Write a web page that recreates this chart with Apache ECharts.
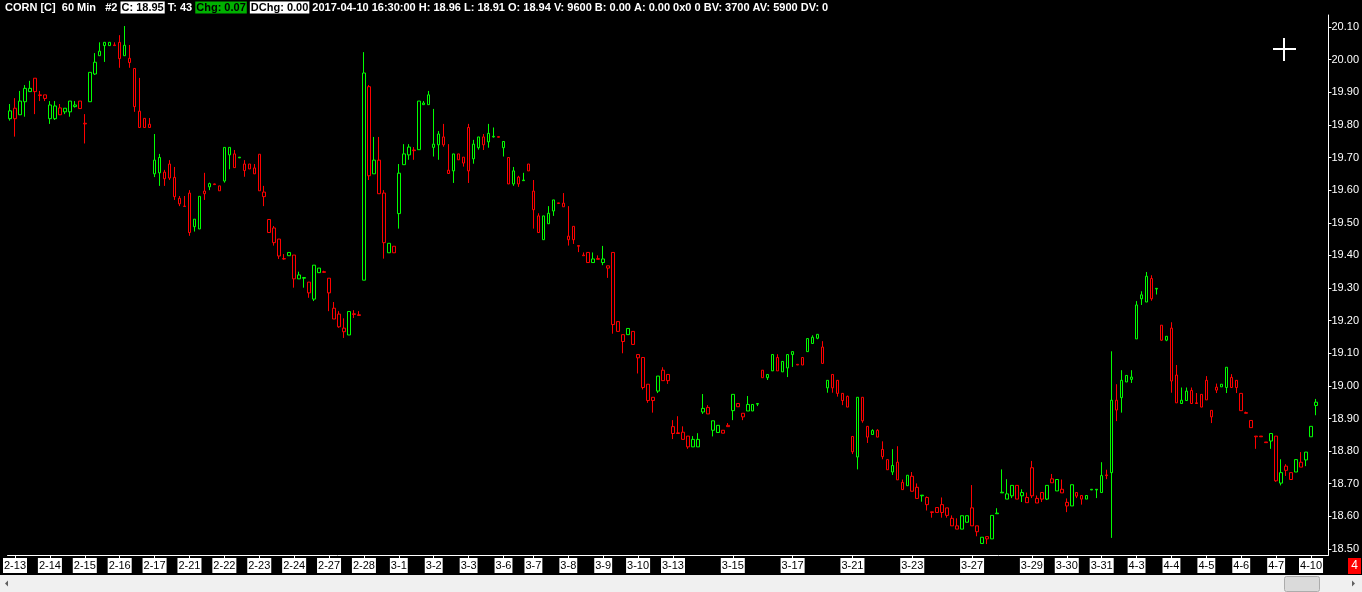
<!DOCTYPE html>
<html>
<head>
<meta charset="utf-8">
<script src="https://cdn.jsdelivr.net/npm/echarts@6/dist/echarts.min.js"></script>
<style>
html,body{margin:0;padding:0;background:#000;}
#chart{width:1362px;height:592px;}
</style>
</head>
<body>
<div id="chart"></div>
<script>
// ---- data (60-min bars, CORN) ----
const opens = [19.819,19.851,19.831,19.871,19.902,19.943,19.892,19.892,19.819,19.819,19.852,19.840,19.840,19.856,19.873,19.805,19.871,19.956,20.012,20.043,20.043,20.045,20.053,20.012,20.004,19.973,19.842,19.820,19.802,19.650,19.653,19.655,19.680,19.639,19.575,19.551,19.591,19.488,19.481,19.597,19.610,19.619,19.613,19.628,19.708,19.711,19.699,19.680,19.680,19.668,19.710,19.594,19.510,19.484,19.450,19.390,19.399,19.401,19.328,19.330,19.318,19.266,19.347,19.350,19.330,19.238,19.220,19.177,19.156,19.221,19.218,19.324,19.917,19.650,19.692,19.591,19.408,19.428,19.528,19.678,19.708,19.723,19.724,19.862,19.862,19.731,19.739,19.763,19.661,19.659,19.711,19.701,19.792,19.696,19.730,19.763,19.748,19.763,19.764,19.730,19.700,19.619,19.640,19.629,19.680,19.597,19.521,19.448,19.497,19.536,19.561,19.560,19.459,19.489,19.430,19.401,19.409,19.378,19.390,19.378,19.368,19.409,19.197,19.157,19.157,19.167,19.096,19.087,19.005,18.965,18.984,19.048,19.035,18.875,18.856,18.858,18.846,18.813,18.813,18.920,18.934,18.864,18.857,18.864,18.879,18.924,18.946,18.916,18.923,18.923,18.944,19.048,19.025,19.046,19.087,19.043,19.055,19.096,19.066,19.087,19.105,19.130,19.146,19.119,18.994,19.035,19.017,18.977,18.968,18.845,18.782,18.965,18.876,18.851,18.864,18.805,18.774,18.736,18.766,18.704,18.694,18.723,18.689,18.663,18.658,18.614,18.627,18.636,18.626,18.594,18.571,18.561,18.582,18.626,18.571,18.517,18.538,18.531,18.608,18.672,18.653,18.663,18.695,18.663,18.658,18.749,18.655,18.673,18.653,18.715,18.678,18.683,18.643,18.632,18.673,18.664,18.653,18.681,18.681,18.673,18.727,18.734,18.956,18.964,19.012,19.020,19.144,19.267,19.257,19.329,19.297,19.186,19.140,19.177,19.033,18.946,18.955,18.986,18.948,18.974,19.017,18.925,18.996,18.997,18.995,19.026,19.017,18.977,18.918,18.894,18.846,18.846,18.828,18.831,18.846,18.702,18.754,18.734,18.736,18.766,18.773,18.844,18.94];
const closes = [19.843,19.819,19.873,19.912,19.912,19.902,19.890,19.881,19.861,19.858,19.831,19.851,19.873,19.861,19.850,19.803,19.961,19.992,20.026,20.053,20.053,20.043,20.003,20.044,19.991,19.856,19.792,19.792,19.792,19.692,19.700,19.635,19.637,19.580,19.558,19.550,19.470,19.511,19.581,19.589,19.620,19.617,19.598,19.731,19.731,19.669,19.701,19.660,19.665,19.650,19.598,19.580,19.470,19.439,19.398,19.389,19.409,19.328,19.340,19.332,19.285,19.370,19.361,19.348,19.285,19.205,19.181,19.166,19.228,19.219,19.216,19.959,19.644,19.692,19.589,19.439,19.437,19.408,19.652,19.711,19.732,19.721,19.873,19.867,19.892,19.741,19.772,19.739,19.651,19.711,19.693,19.683,19.659,19.741,19.763,19.739,19.774,19.765,19.762,19.749,19.619,19.659,19.619,19.631,19.659,19.540,19.470,19.521,19.529,19.570,19.559,19.549,19.448,19.448,19.428,19.399,19.378,19.389,19.388,19.389,19.361,19.188,19.167,19.136,19.176,19.127,19.086,18.995,18.955,18.955,19.030,19.016,19.016,18.854,18.854,18.836,18.813,18.836,18.836,18.931,18.914,18.893,18.879,18.855,18.875,18.974,18.936,18.905,18.943,18.943,18.946,19.025,19.035,19.096,19.046,19.075,19.096,19.105,19.064,19.064,19.145,19.149,19.158,19.069,19.017,18.994,18.977,18.955,18.935,18.798,18.965,18.893,18.843,18.863,18.843,18.783,18.743,18.756,18.712,18.682,18.726,18.677,18.655,18.665,18.636,18.612,18.612,18.612,18.603,18.571,18.561,18.602,18.602,18.571,18.553,18.536,18.531,18.603,18.610,18.674,18.669,18.695,18.653,18.673,18.642,18.663,18.641,18.653,18.695,18.703,18.713,18.672,18.632,18.697,18.662,18.653,18.664,18.683,18.683,18.725,18.725,18.956,18.926,19.017,19.032,19.027,19.248,19.279,19.336,19.267,19.299,19.140,19.152,19.015,18.948,18.956,18.984,18.946,18.946,18.935,18.957,18.905,18.987,19.005,19.057,18.995,18.995,18.924,18.916,18.872,18.844,18.844,18.826,18.854,18.709,18.734,18.741,18.713,18.774,18.751,18.797,18.876,18.95];
const lows = [19.813,19.764,19.831,19.825,19.902,19.833,19.873,19.873,19.803,19.815,19.831,19.833,19.825,19.853,19.850,19.743,19.871,19.953,20.012,19.993,20.043,20.043,19.975,20.012,19.975,19.840,19.792,19.792,19.792,19.640,19.613,19.613,19.631,19.570,19.551,19.550,19.460,19.473,19.481,19.570,19.600,19.617,19.598,19.623,19.664,19.669,19.699,19.641,19.665,19.650,19.598,19.551,19.470,19.430,19.389,19.387,19.399,19.301,19.328,19.301,19.270,19.260,19.347,19.347,19.229,19.205,19.178,19.147,19.156,19.208,19.216,19.324,19.631,19.650,19.589,19.390,19.408,19.408,19.482,19.678,19.693,19.693,19.724,19.862,19.862,19.703,19.693,19.733,19.651,19.622,19.693,19.672,19.622,19.681,19.724,19.723,19.730,19.761,19.762,19.703,19.619,19.613,19.610,19.629,19.659,19.482,19.470,19.448,19.497,19.521,19.559,19.549,19.430,19.435,19.410,19.399,19.378,19.378,19.388,19.370,19.331,19.160,19.167,19.100,19.157,19.127,19.038,18.989,18.948,18.918,18.978,19.016,19.006,18.837,18.854,18.836,18.807,18.813,18.813,18.914,18.914,18.845,18.857,18.855,18.875,18.895,18.936,18.895,18.923,18.923,18.938,19.025,19.018,19.046,19.046,19.043,19.027,19.058,19.064,19.064,19.105,19.130,19.143,19.069,18.979,18.979,18.967,18.941,18.935,18.791,18.744,18.887,18.825,18.851,18.843,18.775,18.743,18.727,18.712,18.682,18.694,18.677,18.655,18.645,18.618,18.596,18.612,18.596,18.596,18.571,18.561,18.561,18.582,18.571,18.539,18.517,18.515,18.531,18.608,18.672,18.653,18.656,18.653,18.644,18.642,18.656,18.641,18.644,18.650,18.703,18.678,18.672,18.613,18.632,18.656,18.636,18.653,18.681,18.656,18.673,18.714,18.534,18.892,18.918,19.012,19.009,19.144,19.248,19.257,19.261,19.280,19.138,19.137,18.979,18.948,18.946,18.955,18.946,18.946,18.935,18.957,18.886,18.978,18.997,18.978,18.995,18.978,18.924,18.916,18.872,18.807,18.844,18.826,18.807,18.706,18.695,18.724,18.713,18.736,18.751,18.754,18.844,18.91];
const highs = [19.864,19.882,19.904,19.922,19.935,19.943,19.904,19.892,19.873,19.873,19.864,19.851,19.873,19.873,19.873,19.833,19.961,20.020,20.053,20.053,20.053,20.053,20.075,20.103,20.045,19.973,19.944,19.820,19.821,19.772,19.711,19.662,19.692,19.671,19.582,19.582,19.600,19.511,19.581,19.653,19.623,19.620,19.613,19.731,19.731,19.723,19.701,19.692,19.680,19.680,19.710,19.613,19.510,19.490,19.450,19.404,19.409,19.401,19.350,19.332,19.318,19.370,19.361,19.353,19.330,19.257,19.229,19.207,19.228,19.232,19.229,20.023,19.922,19.763,19.763,19.600,19.437,19.428,19.680,19.741,19.741,19.732,19.873,19.873,19.904,19.849,19.781,19.803,19.741,19.711,19.711,19.701,19.803,19.754,19.763,19.772,19.803,19.792,19.764,19.749,19.700,19.671,19.644,19.653,19.680,19.631,19.529,19.521,19.551,19.570,19.561,19.591,19.551,19.489,19.430,19.409,19.409,19.409,19.400,19.429,19.368,19.409,19.197,19.157,19.176,19.167,19.096,19.087,19.005,18.965,19.030,19.057,19.035,18.895,18.907,18.876,18.846,18.846,18.855,18.975,18.941,18.893,18.879,18.864,18.886,18.974,18.946,18.916,18.969,18.943,18.946,19.048,19.035,19.096,19.097,19.075,19.096,19.105,19.066,19.087,19.145,19.155,19.158,19.137,19.017,19.035,19.017,18.977,18.970,18.845,18.965,18.965,18.876,18.867,18.867,18.830,18.774,18.806,18.815,18.713,18.726,18.736,18.701,18.665,18.661,18.614,18.627,18.658,18.626,18.603,18.594,18.602,18.602,18.696,18.571,18.536,18.538,18.603,18.625,18.744,18.714,18.695,18.695,18.683,18.673,18.770,18.664,18.673,18.695,18.730,18.713,18.713,18.655,18.697,18.673,18.664,18.664,18.683,18.683,18.766,18.743,19.106,19.005,19.048,19.032,19.048,19.260,19.290,19.349,19.339,19.299,19.186,19.152,19.195,19.064,18.995,18.995,18.995,18.978,18.974,19.030,18.925,19.007,19.005,19.057,19.036,19.017,18.977,18.921,18.894,18.846,18.846,18.828,18.854,18.846,18.775,18.760,18.734,18.774,18.797,18.797,18.876,18.96];

// day labels shown on the time axis and the bar index where each day starts
const dayLabels = ['2-13','2-14','2-15','2-16','2-17','2-21','2-22','2-23','2-24','2-27','2-28','3-1','3-2','3-3','3-6','3-7','3-8','3-9','3-10','3-13','3-15','3-17','3-21','3-23','3-27','3-29','3-30','3-31','4-3','4-4','4-5','4-6','4-7','4-10'];
const dayStarts = [1,8,15,22,29,36,43,50,57,64,71,78,85,92,99,105,112,119,126,133,145,157,169,181,193,205,212,219,226,233,240,247,254,261];
const priceTicks = [18.5,18.6,18.7,18.8,18.9,19.0,19.1,19.2,19.3,19.4,19.5,19.6,19.7,19.8,19.9,20.0,20.1];

const header = {sym:'CORN [C]', period:'60 Min', num:'#2', time:'2017-04-10 16:30:00', ticks:43, chg:0.07, dchg:0.00,
  vol:9600, bid:'0.00', ask:'0.00', bv:3700, av:5900, dv:0};
const pageNo = '4';

// ---- build ----
const FONT = '"Liberation Sans",Arial,sans-serif';
const N = opens.length;
const slots = N + 2; // empty space right of last bar
const cats = [];
for (let i = 0; i < slots; i++) cats.push('');
dayStarts.forEach((s, k) => { cats[s] = dayLabels[k]; });
const candles = opens.map((o, i) => [o, closes[i], lows[i], highs[i]]);
const lastO = opens[N-1], lastC = closes[N-1], lastH = highs[N-1], lastL = lows[N-1];

const showIdx = (idx, val) => val !== '';

const headerText =
  '{w|' + header.sym + '  ' + header.period + '   ' + header.num + ' }' +
  '{b|C: ' + lastC.toFixed(2) + '}' +
  '{w| T: ' + header.ticks + ' }' +
  '{g|Chg: ' + header.chg.toFixed(2) + '}' +
  '{w| }{b|DChg: ' + header.dchg.toFixed(2) + '}' +
  '{w| ' + header.time + ' H: ' + lastH.toFixed(2) + ' L: ' + lastL.toFixed(2) + ' O: ' + lastO.toFixed(2) +
  ' V: ' + header.vol + ' B: ' + header.bid + ' A: ' + header.ask + ' 0x0 0 BV: ' + header.bv + ' AV: ' + header.av + ' DV: ' + header.dv + '}';

const chart = echarts.init(document.getElementById('chart'), null, {renderer: 'canvas'});
const option = {
  backgroundColor: '#000',
  animation: false,
  title: {
    left: 5, top: 0, padding: 0,
    text: headerText,
    textStyle: {
      fontFamily: FONT, fontSize: 11, color: '#fff',
      rich: {
        w: {color: '#fff', fontFamily: FONT, fontSize: 11, lineHeight: 15},
        b: {color: '#000', backgroundColor: '#fff', fontFamily: FONT, fontSize: 11, padding: [1, 1, 0, 1], lineHeight: 15},
        g: {color: '#000', backgroundColor: '#00b000', fontFamily: FONT, fontSize: 11, padding: [1, 1, 0, 1], lineHeight: 15}
      }
    }
  },
  grid: {left: 3.5, right: 33.5, top: 15, bottom: 37},
  xAxis: {
    type: 'category',
    data: cats,
    boundaryGap: true,
    axisLine: {show: true, lineStyle: {color: '#fff', width: 1}},
    axisTick: {show: true, alignWithLabel: true, interval: showIdx, length: 3, lineStyle: {color: '#fff'}},
    axisLabel: {
      interval: showIdx, color: '#000', backgroundColor: '#fff', fontFamily: FONT, fontSize: 11,
      padding: [2, 1, 2, 1], lineHeight: 11, margin: 3
    },
    splitLine: {show: false}
  },
  yAxis: {
    type: 'value',
    position: 'right',
    min: 18.5 - 6 / 326,
    max: 20.1 + 12 / 326,
    scale: true,
    axisLine: {show: true, lineStyle: {color: '#fff', width: 1}},
    axisTick: {show: true, length: 3, lineStyle: {color: '#fff'}, customValues: priceTicks},
    axisLabel: {color: '#fff', fontFamily: FONT, fontSize: 11, margin: 3, customValues: priceTicks,
      formatter: v => v.toFixed(2)},
    splitLine: {show: false}
  },
  series: [{
    type: 'candlestick',
    data: candles,
    barWidth: 3,
    clip: false,
    itemStyle: {
      color: '#000', color0: '#000',
      borderColor: '#00ff00', borderColor0: '#ff0000', borderWidth: 1
    },
    markLine: {
      silent: true, symbol: 'none',
      lineStyle: {opacity: 0},
      label: {
        show: true, position: 'end', distance: 2, formatter: lastC.toFixed(2),
        color: '#000', backgroundColor: '#fff', fontFamily: FONT, fontSize: 11, padding: [2, 2, 1, 2]
      },
      data: [{yAxis: lastC}]
    }
  }],
  graphic: [
    // crosshair cursor
    {type: 'line', shape: {x1: 1273, y1: 49, x2: 1296, y2: 49}, style: {stroke: '#fff', lineWidth: 2}},
    {type: 'line', shape: {x1: 1284, y1: 38, x2: 1284, y2: 61}, style: {stroke: '#fff', lineWidth: 2}},
    // page box
    {type: 'rect', shape: {x: 1348, y: 558, width: 13, height: 16}, style: {fill: '#ff0000'}},
    {type: 'text', x: 1354.5, y: 566, style: {text: pageNo, fill: '#fff', font: '12px ' + FONT, align: 'center', verticalAlign: 'middle'}},
    // scrollbar
    {type: 'rect', shape: {x: 0, y: 575, width: 1362, height: 17}, style: {fill: '#f0f0f0'}},
    {type: 'polygon', shape: {points: [[5, 583.5], [8, 580.5], [8, 586.5]]}, style: {fill: '#606060'}},
    {type: 'polygon', shape: {points: [[1355, 583.5], [1352, 580.5], [1352, 586.5]]}, style: {fill: '#606060'}},
    {type: 'rect', shape: {x: 1284.5, y: 576.5, width: 35, height: 15, r: 2}, style: {fill: '#dadada', stroke: '#acacac', lineWidth: 1}}
  ]
};
chart.setOption(option);
</script>
</body>
</html>
